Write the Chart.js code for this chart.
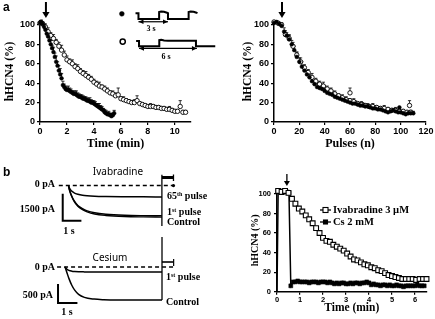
<!DOCTYPE html>
<html lang="en">
<head>
<meta charset="utf-8">
<title>hHCN4 block by ivabradine and cesium</title>
<script src="https://cdn.jsdelivr.net/npm/chart.js"></script>
<style>
  body { margin: 0; background: #fff; }
  #fig { position: relative; width: 435px; height: 319px; overflow: hidden; }
  #fig canvas { position: absolute; }
  .t { position: absolute; white-space: nowrap; line-height: 1; color: #000;
       font-family: "Liberation Serif", serif; font-weight: bold; font-size: 10px;
       transform: translateY(-50%); }
  .c { transform: translate(-50%, -50%); }
  .sans { font-family: "Liberation Sans", Arial, sans-serif; }
  .noto { font-family: "Noto Sans", sans-serif; font-weight: normal; }
  sup { font-size: 6px; vertical-align: 3px; line-height: 0; }
</style>
</head>
<body>
<div id="fig">
  <canvas id="aTime" width="200" height="153" style="left:0;top:0"></canvas>
  <canvas id="aPulse" width="220" height="153" style="left:215px;top:0"></canvas>
  <canvas id="prot3" width="115" height="32" style="left:110px;top:0"></canvas>
  <canvas id="prot6" width="115" height="34" style="left:110px;top:28px"></canvas>
  <canvas id="trIva" width="215" height="80" style="left:0;top:160px"></canvas>
  <canvas id="trCs" width="215" height="87" style="left:0;top:232px"></canvas>
  <canvas id="bTime" width="220" height="159" style="left:215px;top:160px"></canvas>

  <div class="t sans" style="left:3px;top:7px;font-size:12px">a</div>
  <div class="t sans" style="left:3px;top:172px;font-size:12px">b</div>
  <div class="t c" style="left:151px;top:29px;font-size:8px">3 s</div>
  <div class="t c" style="left:166px;top:57px;font-size:8px">6 s</div>

  <div class="t c noto" style="left:118px;top:171px;font-size:10px">Ivabradine</div>
  <div class="t" style="right:380px;top:184px">0 pA</div>
  <div class="t" style="right:380px;top:209px">1500 pA</div>
  <div class="t c" style="left:69px;top:231px">1 s</div>
  <div class="t" style="left:167px;top:196px">65<sup>th</sup> pulse</div>
  <div class="t" style="left:167px;top:212px">1<sup>st</sup> pulse</div>
  <div class="t" style="left:167px;top:222px">Control</div>

  <div class="t c noto" style="left:110px;top:257px;font-size:10px">Cesium</div>
  <div class="t" style="right:380px;top:267px">0 pA</div>
  <div class="t" style="right:382px;top:295px">500 pA</div>
  <div class="t c" style="left:67px;top:312px">1 s</div>
  <div class="t" style="left:166px;top:277px">1<sup>st</sup> pulse</div>
  <div class="t" style="left:166px;top:302px">Control</div>
</div>

<script>
  // ---- panel a, left: rundown vs time (min), 3 s and 6 s protocols ----
  const t3s = [0, 0.1, 0.2, 0.3, 0.4, 0.5, 0.6, 0.7, 0.8, 0.9, 1.0, 1.1, 1.2, 1.3, 1.4, 1.5, 1.6, 1.7, 1.8, 1.9,
    2.0, 2.1, 2.2, 2.3, 2.4, 2.5, 2.6, 2.7, 2.8, 2.9, 3.0, 3.1, 3.2, 3.3, 3.4, 3.5, 3.6, 3.7, 3.8, 3.9,
    4.0, 4.1, 4.2, 4.3, 4.4, 4.5, 4.6, 4.7, 4.8, 4.9, 5.0, 5.1, 5.2, 5.3, 5.4, 5.5];
  const hcn3s = [102, 103, 101, 98, 95, 91, 88, 84, 80, 76, 72, 67, 62, 58, 53, 49, 45, 38, 36, 34,
    33, 33, 32, 31, 30, 29, 29, 28, 27, 26, 26, 25, 24, 24, 23, 22, 22, 21, 20, 20,
    19, 18, 17, 16, 15, 14, 13, 12, 10, 9, 8, 8, 7, 6, 7, 9];
  const err3s = [1, 2, 2, 3, 4, 3, 4, 5, 4, 3, 5, 4, 6, 4, 5, 6, 5, 4, 3, 3,
    3, 4, 3, 3, 2, 3, 3, 4, 3, 3, 2, 3, 3, 2, 3, 3, 2, 4, 3, 2,
    3, 3, 2, 3, 4, 3, 3, 2, 3, 3, 2, 3, 2, 3, 2, 3];

  const t6s = [0, 0.2, 0.4, 0.6, 0.8, 1.0, 1.2, 1.4, 1.6, 1.8, 2.0, 2.2, 2.4, 2.6, 2.8, 3.0, 3.2, 3.4, 3.6, 3.8,
    4.0, 4.2, 4.4, 4.6, 4.8, 5.0, 5.2, 5.4, 5.6, 5.8, 6.0, 6.2, 6.4, 6.6, 6.8, 7.0, 7.2, 7.4, 7.6, 7.8,
    8.0, 8.2, 8.4, 8.6, 8.8, 9.0, 9.2, 9.4, 9.6, 9.8, 10.0, 10.2, 10.4, 10.6, 10.8];
  const hcn6s = [102, 101, 98, 93, 89, 86, 82, 78, 74, 69, 64, 62, 60, 57, 55, 52, 50, 48, 46, 44,
    41, 39, 37, 36, 34, 32, 30, 29, 27, 28, 24, 23, 22, 21, 20, 20, 22, 19, 18, 17,
    16, 16, 16, 15, 15, 14, 14, 13, 13, 12, 11, 11, 16, 10, 10];
  const err6s = [1, 2, 3, 4, 3, 4, 3, 4, 5, 4, 4, 3, 4, 3, 4, 3, 3, 4, 3, 3,
    3, 3, 4, 2, 3, 3, 2, 3, 3, 7, 2, 3, 2, 2, 2, 3, 5, 2, 2, 2,
    2, 3, 2, 2, 2, 2, 2, 2, 3, 2, 2, 2, 6, 2, 2];

  // ---- panel a, right: same data vs pulse number ----
  const n3s = [0, 2, 4, 6, 8, 10, 12, 14, 16, 18, 20, 22, 24, 26, 28, 30, 32, 34, 36, 38,
    40, 42, 44, 46, 48, 50, 52, 54, 56, 58, 60, 62, 64, 66, 68, 70, 72, 74, 76, 78,
    80, 82, 84, 86, 88, 90, 92, 94, 96, 98, 100, 102, 104, 106, 108, 110, 99];
  const hcnN3s = [102, 103, 101, 99, 93, 89, 85, 80, 74, 67, 62, 57, 53, 49, 46, 42, 39, 36, 35, 34,
    32, 30, 29, 28, 26, 25, 24, 23, 22, 21, 20, 19, 19, 18, 17, 17, 16, 16, 15, 14,
    14, 13, 13, 12, 11, 10, 11, 12, 11, 10, 10, 9, 8, 9, 9, 9, 15];
  const errN3s = [1, 1, 2, 3, 4, 3, 5, 4, 4, 5, 4, 5, 3, 4, 3, 4, 3, 4, 3, 5,
    3, 4, 3, 3, 4, 3, 3, 2, 3, 3, 3, 2, 3, 2, 3, 3, 2, 3, 2, 3,
    2, 3, 2, 3, 2, 3, 2, 2, 3, 2, 2, 3, 2, 2, 3, 2, 0];

  const n6s = [0, 3, 6, 9, 12, 15, 18, 21, 24, 27, 30, 33, 36, 39, 42, 45, 48, 51, 54, 57,
    60, 63, 66, 69, 72, 75, 78, 81, 84, 87, 90, 93, 96, 99, 102, 105, 108, 60, 107];
  const hcnN6s = [103, 102, 100, 90, 86, 78, 69, 62, 56, 51, 46, 42, 39, 37, 34, 32, 29, 27, 25, 23,
    22, 21, 19, 18, 17, 16, 16, 15, 14, 14, 13, 12, 12, 11, 11, 10, 10, 30, 17];
  const errN6s = [1, 1, 2, 4, 3, 4, 3, 4, 3, 3, 4, 3, 3, 4, 3, 3, 3, 2, 3, 3,
    2, 3, 2, 3, 2, 2, 3, 2, 2, 3, 2, 2, 3, 2, 2, 2, 2, 5, 5];

  // drug application (arrows), in each panel's x units
  const onsetMin = 0.44;
  const onsetPulse = 6.3;
  const onsetMinB = 0.43;

  // ---- protocols (s, mV) ----
  const prot3T = [-0.3, 0, 0, 2.1, 2.1, 2.3, 2.6, 2.9, 3.0, 3.0, 5.1, 5.1, 5.3, 5.6, 5.9, 6.0];
  const prot3V = [-35, -35, -100, -100, -22, -18, -20, -30, -35, -100, -100, -22, -18, -20, -30, -35];
  const prot6T = [-0.3, 0, 0, 2.1, 2.1, 2.3, 2.6, 3.0, 5.9, 5.9, 7.9];
  const prot6V = [-35, -35, -100, -100, -25, -22, -30, -33, -33, -100, -100];
  const period3 = [0, 3];
  const period6 = [0, 6];

  // ---- panel b traces (s, pA) ----
  const traceT = [0, 0.05, 0.15, 0.3, 0.5, 0.75, 1.0, 1.4, 2.0, 3.0, 4.0, 5.0];
  const ivaControl = [0, -250, -550, -880, -1150, -1330, -1460, -1580, -1660, -1720, -1740, -1750];
  const ivaFirst = [0, -230, -520, -840, -1100, -1280, -1400, -1510, -1590, -1650, -1670, -1675];
  const ivaPulse65 = [0, -140, -290, -400, -480, -540, -570, -595, -610, -620, -625, -628];

  const csT = [0, 0.1, 0.2, 0.35, 0.5, 0.7, 1.0, 1.5, 2.0, 3.0, 4.0, 5.0];
  const csControl = [0, -150, -300, -480, -610, -720, -800, -845, -860, -868, -870, -870];
  const csFirst = [0, -60, -90, -110, -120, -126, -129, -131, -131, -131, -131, -131];

  // ---- panel b, right: rundown vs time (min) ----
  const ivT = [0.05, 0.2, 0.35, 0.5, 0.65, 0.8, 0.95, 1.1, 1.25, 1.4, 1.55, 1.7, 1.85, 2.0, 2.15, 2.3, 2.45, 2.6, 2.75, 2.9,
    3.05, 3.2, 3.35, 3.5, 3.65, 3.8, 3.95, 4.1, 4.25, 4.4, 4.55, 4.7, 4.85, 5.0, 5.15, 5.3, 5.45, 5.6, 5.75, 5.9,
    6.05, 6.2, 6.35, 6.5];
  const ivHcn = [103, 102, 103, 101, 95, 90, 85, 82, 78, 74, 70, 65, 60, 55, 52, 51, 48, 46, 44, 42,
    39, 36, 33, 32, 30, 28, 27, 25, 24, 22, 21, 19, 17, 16, 15, 14, 13, 13, 13, 13,
    12, 13, 13, 13];
  const csMinT = [0, 0.05, 0.15, 0.25, 0.35, 0.45, 0.52, 0.6, 0.7, 0.8, 0.9, 1.0, 1.1, 1.2, 1.3, 1.4, 1.5, 1.6, 1.7, 1.8,
    1.9, 2.0, 2.1, 2.2, 2.3, 2.4, 2.5, 2.6, 2.7, 2.8, 2.9, 3.0, 3.1, 3.2, 3.3, 3.4, 3.5, 3.6, 3.7, 3.8,
    3.9, 4.0, 4.1, 4.2, 4.3, 4.4, 4.5, 4.6, 4.7, 4.8, 4.9, 5.0, 5.1, 5.2, 5.3, 5.4, 5.5, 5.6, 5.7, 5.8,
    5.9, 6.0, 6.1, 6.2, 6.3, 6.4];
  const csHcn = [0, 103, 102, 103, 102, 102, 101, 6, 10, 10, 11, 10, 10, 10, 10, 9, 10, 10, 10, 9,
    10, 10, 10, 9, 10, 9, 8, 9, 8, 9, 9, 8, 8, 9, 8, 9, 9, 8, 9, 9,
    10, 9, 7, 8, 7, 7, 6, 7, 7, 6, 7, 6, 6, 7, 6, 6, 5, 6, 6, 6,
    6, 6, 7, 6, 6, 6];

  const serif = '"Liberation Serif", "Times New Roman", serif';
  Chart.defaults.font.family = '"Liberation Sans", Arial, sans-serif';
  Chart.defaults.color = '#000';
  Chart.defaults.plugins.legend.display = false;
  Chart.defaults.plugins.tooltip.enabled = false;

  const pts = (xs, ys) => xs.map((x, i) => ({ x: x, y: ys[i] }));

  // small "T" error bars above each point
  const errorBars = {
    id: 'errorBars',
    beforeDatasetsDraw(chart) {
      const ctx = chart.ctx, ys = chart.scales.y;
      chart.data.datasets.forEach((ds, i) => {
        if (!ds.err) return;
        const meta = chart.getDatasetMeta(i);
        ctx.save();
        ctx.strokeStyle = '#000';
        ctx.lineWidth = 0.8;
        meta.data.forEach((p, j) => {
          const e = ds.err[j];
          if (!e) return;
          const top = ys.getPixelForValue(ds.data[j].y + e);
          ctx.beginPath();
          ctx.moveTo(p.x, p.y);
          ctx.lineTo(p.x, top);
          ctx.moveTo(p.x - 1.6, top);
          ctx.lineTo(p.x + 1.6, top);
          ctx.stroke();
        });
        ctx.restore();
      });
    }
  };

  // downward arrow marking drug onset
  const onsetArrow = {
    id: 'onsetArrow',
    afterDraw(chart, args, o) {
      if (o.at === undefined) return;
      const ctx = chart.ctx;
      const x = chart.scales.x.getPixelForValue(o.at);
      ctx.save();
      ctx.strokeStyle = '#000';
      ctx.fillStyle = '#000';
      ctx.lineWidth = o.width;
      ctx.beginPath();
      ctx.moveTo(x, o.from);
      ctx.lineTo(x, o.to - o.head);
      ctx.stroke();
      ctx.beginPath();
      ctx.moveTo(x - o.head * 0.6, o.to - o.head);
      ctx.lineTo(x + o.head * 0.6, o.to - o.head);
      ctx.lineTo(x, o.to);
      ctx.closePath();
      ctx.fill();
      ctx.restore();
    }
  };

  // double-headed arrows for the protocol periods
  const periodArrows = {
    id: 'periodArrows',
    afterDatasetsDraw(chart) {
      const ctx = chart.ctx;
      chart.data.datasets.forEach((ds, i) => {
        if (!ds.arrowHeads) return;
        const d = chart.getDatasetMeta(i).data;
        const a = d[0], b = d[d.length - 1];
        ctx.save();
        ctx.fillStyle = '#000';
        [[a, 1], [b, -1]].forEach(([p, dir]) => {
          ctx.beginPath();
          ctx.moveTo(p.x, p.y);
          ctx.lineTo(p.x + dir * 5, p.y - 2.3);
          ctx.lineTo(p.x + dir * 5, p.y + 2.3);
          ctx.closePath();
          ctx.fill();
        });
        ctx.restore();
      });
    }
  };

  // legend with line + marker, like the original key
  const seriesKey = {
    id: 'seriesKey',
    afterDraw(chart, args, o) {
      if (o.x === undefined) return;
      const ctx = chart.ctx;
      chart.data.datasets.forEach((ds, i) => {
        const y = o.y + i * o.gap;
        const cx = o.x + o.len / 2;
        const s = ds.keySize;
        ctx.save();
        ctx.strokeStyle = '#000';
        ctx.lineWidth = 1.3;
        ctx.beginPath();
        ctx.moveTo(o.x, y);
        ctx.lineTo(o.x + o.len, y);
        ctx.stroke();
        ctx.fillStyle = ds.pointBackgroundColor;
        ctx.fillRect(cx - s / 2, y - s / 2, s, s);
        ctx.lineWidth = 1.1;
        ctx.strokeRect(cx - s / 2, y - s / 2, s, s);
        ctx.fillStyle = '#000';
        ctx.font = 'bold 10.5px ' + serif;
        ctx.textBaseline = 'middle';
        ctx.fillText(ds.label, o.x + o.len + 2, y);
        ctx.restore();
      });
    }
  };

  Chart.register(errorBars, onsetArrow, periodArrows, seriesKey);

  function axis(min, max, step, title, tickSize, titleSize, isY, fit, tickPad) {
    return {
      type: 'linear', min: min, max: max,
      ticks: { stepSize: step, includeBounds: false, color: '#000', padding: tickPad,
        font: { size: tickSize, weight: 'bold' } },
      grid: { drawOnChartArea: false, drawTicks: true, tickLength: 3, color: '#000', lineWidth: 1.2 },
      border: { color: '#000', width: 1.5 },
      title: { display: true, text: title, color: '#000',
        font: { family: serif, size: titleSize, weight: 'bold' },
        padding: isY ? { top: 3, bottom: 0 } : { top: 0, bottom: 2 } },
      afterFit: s => { if (isY) s.width = fit; else s.height = fit; }
    };
  }

  function hidden(min, max) {
    return { type: 'linear', display: false, min: min, max: max };
  }

  const base = { responsive: false, animation: false, devicePixelRatio: 1 };

  function filledDots(data, err) {
    return { data: data, err: err, pointRadius: 1.9, pointBackgroundColor: '#000', pointBorderColor: '#000',
      pointBorderWidth: 0.5, showLine: false, clip: false };
  }
  function openDots(data, err) {
    return { data: data, err: err, pointRadius: 2.2, pointBackgroundColor: '#fff', pointBorderColor: '#000',
      pointBorderWidth: 0.9, showLine: false, clip: false };
  }

  // panel a, left
  new Chart(document.getElementById('aTime'), {
    type: 'scatter',
    data: { datasets: [filledDots(pts(t3s, hcn3s), err3s), openDots(pts(t6s, hcn6s), err6s)] },
    options: Object.assign({}, base, {
      layout: { padding: { left: 0, top: 21, right: 9, bottom: 0 } },
      scales: {
        x: axis(0, 11.2, 2, 'Time (min)', 9, 12, false, 31, 1),
        y: axis(0, 104, 20, 'hHCN4 (%)', 9, 11.5, true, 40, 2)
      },
      plugins: { onsetArrow: { at: onsetMin, from: 2, to: 18, head: 6, width: 2 } }
    })
  });

  // panel a, right
  new Chart(document.getElementById('aPulse'), {
    type: 'scatter',
    data: { datasets: [filledDots(pts(n3s, hcnN3s), errN3s), openDots(pts(n6s, hcnN6s), errN6s)] },
    options: Object.assign({}, base, {
      layout: { padding: { left: 23, top: 21, right: 9, bottom: 0 } },
      scales: {
        x: axis(0, 120, 20, 'Pulses (n)', 9, 12, false, 31, 1),
        y: axis(0, 104, 20, 'hHCN4 (%)', 9, 11.5, true, 36, 2)
      },
      plugins: { onsetArrow: { at: onsetPulse, from: 2, to: 18, head: 6, width: 2 } }
    })
  });

  // protocol sketches
  function protocolChart(id, t, v, period, arrowV, markV, openMark, yMin, yMax) {
    new Chart(document.getElementById(id), {
      type: 'scatter',
      data: { datasets: [
        { data: pts(t, v), showLine: true, pointRadius: 0, borderColor: '#000', borderWidth: 2, clip: false },
        { data: pts(period, [arrowV, arrowV]), showLine: true, pointRadius: 0, borderColor: '#000',
          borderWidth: 1.2, arrowHeads: true, clip: false },
        { data: [{ x: -1.69, y: markV }], pointRadius: openMark ? 2.6 : 2.4,
          pointBackgroundColor: openMark ? '#fff' : '#000', pointBorderColor: '#000',
          pointBorderWidth: openMark ? 1.5 : 0.5, clip: false }
      ] },
      options: Object.assign({}, base, {
        layout: { padding: 0 },
        scales: { x: hidden(-2.437, 8.34), y: hidden(yMin, yMax) }
      })
    });
  }
  protocolChart('prot3', prot3T, prot3V, period3, -132.5, -43, false, -197.5, 62.5);
  protocolChart('prot6', prot6T, prot6V, period6, -124.4, -43, true, -221.9, 54.4);

  // current traces
  function line(xs, ys, w, extra) {
    return Object.assign({ data: pts(xs, ys), showLine: true, pointRadius: 0, borderColor: '#000',
      borderWidth: w, clip: false }, extra || {});
  }
  const smooth = { cubicInterpolationMode: 'monotone' };
  const dashed = { borderDash: [4, 3] };

  new Chart(document.getElementById('trIva'), {
    type: 'scatter',
    data: { datasets: [
      line([-0.52, 5.62], [0, 0], 1.5, dashed),
      line(traceT, ivaControl, 1.4, smooth),
      line(traceT, ivaFirst, 1.4, smooth),
      line(traceT, ivaPulse65, 1.5, smooth),
      line([5, 5], [-2250, 600], 1.3),
      line([5, 5.62], [450, 450], 3),
      line([5.62, 5.62], [620, 250], 1.3),
      line([-0.31, -0.31, 0.69], [-450, -1950, -1950], 2),
      { data: [{ x: 5.62, y: 0 }], pointRadius: 1.6, pointBackgroundColor: '#000', pointBorderWidth: 0, clip: false }
    ] },
    options: Object.assign({}, base, {
      layout: { padding: 0 },
      scales: { x: hidden(-3.454, 7.629), y: hidden(-2800, 1200) }
    })
  });

  new Chart(document.getElementById('trCs'), {
    type: 'scatter',
    data: { datasets: [
      line([-0.41, 5.57], [0, 0], 1.5, dashed),
      line(csT, csControl, 1.5, smooth),
      line(csT, csFirst, 1.5, smooth),
      line([5, 5], [-868, 789], 1.3),
      line([5, 5.6], [131, 131], 1.6),
      line([5.6, 5.6], [210, 26], 1.2),
      line([-0.36, -0.36, 0.64], [-447, -947, -947], 2)
    ] },
    options: Object.assign({}, base, {
      layout: { padding: 0 },
      scales: { x: hidden(-3.351, 7.732), y: hidden(-1368, 920) }
    })
  });

  // panel b, right
  new Chart(document.getElementById('bTime'), {
    type: 'scatter',
    data: { datasets: [
      { label: 'Ivabradine 3 \u00b5M', data: pts(ivT, ivHcn), showLine: true, borderColor: '#000', borderWidth: 1.2,
        pointStyle: 'rect', pointRadius: 3.4, pointBackgroundColor: '#fff', pointBorderColor: '#000',
        pointBorderWidth: 1.1, keySize: 5, clip: false },
      { label: 'Cs 2 mM', data: pts(csMinT, csHcn), showLine: true, borderColor: '#000', borderWidth: 1.5,
        pointStyle: 'rect', pointRadius: csMinT.map((t, i) => i === 0 ? 0 : 2.8), pointBackgroundColor: '#000',
        pointBorderColor: '#000', pointBorderWidth: 0.5, keySize: 4, clip: false }
    ] },
    options: Object.assign({}, base, {
      layout: { padding: { left: 31, top: 29, right: 8.5, bottom: 2 } },
      scales: {
        x: axis(0, 6.5, 1, 'Time (min)', 7.5, 11.5, false, 25.3, 1),
        y: axis(0, 105, 20, 'hHCN4 (%)', 7.5, 10, true, 31, 3)
      },
      plugins: {
        onsetArrow: { at: onsetMinB, from: 14, to: 26, head: 5, width: 1.3 },
        seriesKey: { x: 105, y: 50, gap: 12, len: 11 }
      }
    })
  });
</script>
</body>
</html>
